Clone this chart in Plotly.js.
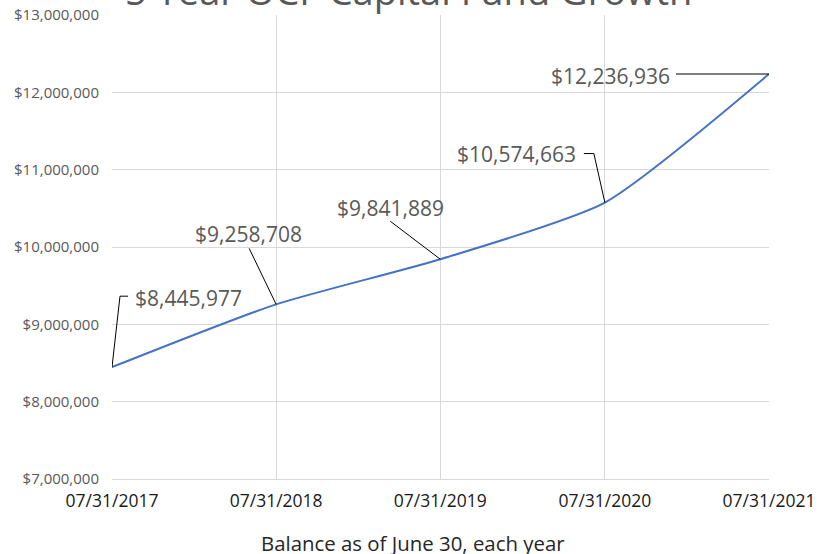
<!DOCTYPE html>
<html>
<head>
<meta charset="utf-8">
<script src="https://cdn.plot.ly/plotly-3.0.1.min.js"></script>
<style>
  body { margin: 0; background: #fff; }
  #chart { width: 825px; height: 554px; }
</style>
</head>
<body>
<div id="chart"></div>
<script>
var dates = ['2017-07-31', '2018-07-31', '2019-07-31', '2020-07-31', '2021-07-31'];
var balances = [8445977, 9258708, 9841889, 10574663, 12236936];
var tickLabels = ['07/31/2017', '07/31/2018', '07/31/2019', '07/31/2020', '07/31/2021'];
var yTicks = [7000000, 8000000, 9000000, 10000000, 11000000, 12000000, 13000000];

// where each label sits relative to its point (screen px, y down)
var labelDx = [76, -28, -50, -88, -159];
var labelDy = [-69, -70, -51, -49, 2];
// leader line bends relative to the point (screen px, y down)
var leaderPts = [
  [[0, 0], [8, -71], [16, -71]],
  [[0, 0], [-27, -56]],
  [[0, 0], [-50, -38]],
  [[0, 0], [-11, -49], [-21, -49]],
  [[0, 0], [-93, 0]]
];

var font = 'Open Sans, sans-serif';

var trace = {
  type: 'scatter',
  x: dates,
  y: balances,
  mode: 'lines',
  line: { color: '#4472C4', width: 2, shape: 'spline', smoothing: 0.6 },
  hoverinfo: 'skip'
};

var notes = balances.map(function (v, i) {
  return {
    x: dates[i], y: v, xref: 'x', yref: 'y',
    text: '$' + v.toLocaleString('en-US'),
    showarrow: false,
    xshift: labelDx[i],
    yshift: -labelDy[i],
    font: { family: font, size: 21, color: '#595959' }
  };
});

// chart title, pushed up so it is clipped by the top edge like the original
notes.push({
  xref: 'paper', yref: 'paper', x: 0.452, y: 1,
  yanchor: 'bottom', yshift: -3,
  text: '5 Year OCF Capital Fund Growth',
  showarrow: false,
  font: { family: font, size: 38, color: '#595959' }
});

// x axis caption, centred on the whole figure like the original
notes.push({
  xref: 'paper', yref: 'paper', x: 0.458, y: 0,
  yshift: -64, yanchor: 'middle',
  text: 'Balance as of June 30, each year',
  showarrow: false,
  font: { family: font, size: 20.4, color: '#262626' }
});

var leaders = balances.map(function (v, i) {
  var p = leaderPts[i].map(function (pt, k) {
    return (k ? 'L' : 'M') + pt[0] + ',' + (-pt[1]);
  }).join(' ');
  return {
    type: 'path',
    xref: 'x', yref: 'y',
    xsizemode: 'pixel', ysizemode: 'pixel',
    xanchor: dates[i], yanchor: v,
    path: p,
    line: { color: '#000', width: 1 }
  };
});

var layout = {
  width: 825,
  height: 554,
  paper_bgcolor: '#fff',
  plot_bgcolor: '#fff',
  showlegend: false,
  margin: { l: 112, r: 56, t: 15, b: 75 },
  xaxis: {
    type: 'date',
    range: [dates[0], dates[dates.length - 1]],
    tickvals: dates,
    ticktext: tickLabels,
    showgrid: true,
    gridcolor: '#d9d9d9',
    zeroline: false,
    showline: true,
    linecolor: '#d9d9d9',
    ticks: '',
    ticklabelstandoff: 6,
    tickfont: { family: font, size: 17.5, color: '#1a1a1a' }
  },
  yaxis: {
    range: [7000000, 13000000],
    tickvals: yTicks,
    tickformat: '$,.0f',
    showgrid: true,
    gridcolor: '#d9d9d9',
    zeroline: false,
    showline: false,
    ticks: '',
    ticklabelstandoff: 12,
    tickfont: { family: font, size: 15, color: '#595959' }
  },
  shapes: leaders,
  annotations: notes
};

Plotly.newPlot('chart', [trace], layout, { displayModeBar: false, staticPlot: true });
</script>
</body>
</html>
